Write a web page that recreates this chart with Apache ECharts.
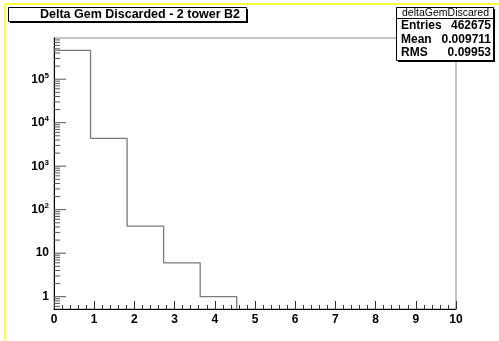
<!DOCTYPE html>
<html>
<head>
<meta charset="utf-8">
<script src="https://cdn.jsdelivr.net/npm/echarts@6/dist/echarts.min.js"></script>
<style>html,body{margin:0;padding:0;background:#fff}#c{width:499px;height:341px}</style>
</head>
<body>
<div id="c"></div>
<script>
// ---- data ----
var title = 'Delta Gem Discarded - 2 tower B2';
var histName = 'deltaGemDiscared';
var statLabels = ['Entries', 'Mean', 'RMS'];
var statValues = ['462675', '0.009711', '0.09953'];
var binEdges = [0, 0.909, 1.818, 2.727, 3.636, 4.545, 5.455, 6.364, 7.273, 8.182, 9.091, 10];
var binCounts = [458246, 4380, 42, 6, 1, 0, 0, 0, 0, 0, 0];
var xTicks = [0, 1, 2, 3, 4, 5, 6, 7, 8, 9, 10];
var yDecades = [0, 1, 2, 3, 4, 5];
var Y_MIN = 0.521, Y_MAX = 8.85e5;

// ---- build ----
var lastNZ = 0;
for (var i = 0; i < binCounts.length; i++) if (binCounts[i] > 0) lastNZ = i;
var histData = [];
for (var i = 0; i <= lastNZ; i++) histData.push([binEdges[i], binCounts[i]]);
histData.push([binEdges[lastNZ + 1], Y_MIN]);

var tickData = [];
for (var k = -1; k <= 6; k++) {
  for (var m = 1; m <= 9; m++) {
    var v = m * Math.pow(10, k);
    if (v > Y_MIN && v < Y_MAX) tickData.push([0, v, m === 1 ? 12 : 6]);
  }
}

var font = 'Liberation Sans, Arial, Helvetica, sans-serif';
var chart = echarts.init(document.getElementById('c'), null, {renderer: 'canvas'});
chart.setOption({
  animation: false,
  backgroundColor: '#fff',
  grid: {left: 54, right: 43, top: 38, bottom: 32, show: true, borderColor: '#8a8a8a', borderWidth: 1},
  xAxis: {
    type: 'value', min: 0, max: 10, interval: 1,
    axisLine: {show: true, onZero: false, lineStyle: {color: '#000', width: 1}},
    axisTick: {show: true, inside: true, length: 8, lineStyle: {color: '#333'}},
    minorTick: {show: true, splitNumber: 5, length: 4, lineStyle: {color: '#333'}},
    splitLine: {show: false},
    axisLabel: {margin: 5, color: '#000', fontFamily: font, fontWeight: 'bold', fontSize: 12,
      formatter: function (v) { return xTicks.indexOf(Math.round(v)) >= 0 ? String(Math.round(v)) : ''; }}
  },
  yAxis: {
    type: 'log', logBase: 10, min: Y_MIN, max: Y_MAX,
    axisLine: {show: true, onZero: false, lineStyle: {color: '#000', width: 1}},
    axisTick: {show: false},
    splitLine: {show: false},
    axisLabel: {
      margin: 5, color: '#000', fontFamily: font, fontWeight: 'bold', fontSize: 12,
      showMinLabel: false, showMaxLabel: false,
      formatter: function (v) {
        var l = Math.log10(v), r = Math.round(l);
        if (Math.abs(l - r) > 1e-6 || yDecades.indexOf(r) < 0) return '';
        if (r === 0) return '{b|1}';
        if (r === 1) return '{b|10}';
        return '{b|10}{s|' + r + '}';
      },
      rich: {
        b: {fontFamily: font, fontWeight: 'bold', fontSize: 12, color: '#000'},
        s: {fontFamily: font, fontWeight: 'bold', fontSize: 8, color: '#000', padding: [0, 0, 7, 0]}
      }
    }
  },
  series: [
    {
      type: 'line', step: 'end', symbol: 'none', data: histData,
      lineStyle: {color: '#7a7a7a', width: 1.3}, z: 3, clip: false
    },
    {
      type: 'custom', data: tickData, silent: true, clip: false, z: 4,
      renderItem: function (params, api) {
        var p = api.coord([api.value(0), api.value(1)]);
        var len = api.value(2);
        return {type: 'line', shape: {x1: p[0], y1: p[1], x2: p[0] + len, y2: p[1]},
          style: {stroke: '#555', lineWidth: 1}};
      }
    }
  ],
  graphic: [
    {type: 'line', shape: {x1: 5, y1: 4, x2: 5, y2: 341}, style: {stroke: '#ffff00', lineWidth: 1.5}, z: 100},
    {type: 'line', shape: {x1: 5, y1: 4, x2: 499, y2: 4}, style: {stroke: '#ffff00', lineWidth: 1.5}, z: 100},
    // title box
    {type: 'rect', shape: {x: 10, y: 9, width: 238, height: 14}, style: {fill: '#000'}, z: 100},
    {type: 'rect', shape: {x: 8.5, y: 7.5, width: 238, height: 14}, style: {fill: '#fff', stroke: '#000', lineWidth: 1}, z: 101},
    {type: 'text', x: 140, y: 15, style: {text: title, fill: '#000', font: 'bold 12.5px ' + font, align: 'center', verticalAlign: 'middle'}, z: 102},
    // stats box
    {type: 'rect', shape: {x: 398, y: 9, width: 97, height: 53}, style: {fill: '#000'}, z: 100},
    {type: 'rect', shape: {x: 396.5, y: 7.5, width: 97, height: 53}, style: {fill: '#fff', stroke: '#000', lineWidth: 1}, z: 101},
    {type: 'line', shape: {x1: 396.5, y1: 18.5, x2: 493.5, y2: 18.5}, style: {stroke: '#000', lineWidth: 1}, z: 102},
    {type: 'text', x: 445.5, y: 13, style: {text: histName, fill: '#000', font: '10.5px ' + font, align: 'center', verticalAlign: 'middle'}, z: 102},
    {type: 'text', x: 401, y: 26, style: {text: statLabels[0], fill: '#000', font: 'bold 12px ' + font, verticalAlign: 'middle'}, z: 102},
    {type: 'text', x: 401, y: 39.5, style: {text: statLabels[1], fill: '#000', font: 'bold 12px ' + font, verticalAlign: 'middle'}, z: 102},
    {type: 'text', x: 401, y: 52.5, style: {text: statLabels[2], fill: '#000', font: 'bold 12px ' + font, verticalAlign: 'middle'}, z: 102},
    {type: 'text', x: 491, y: 26, style: {text: statValues[0], fill: '#000', font: 'bold 12px ' + font, align: 'right', verticalAlign: 'middle'}, z: 102},
    {type: 'text', x: 491, y: 39.5, style: {text: statValues[1], fill: '#000', font: 'bold 12px ' + font, align: 'right', verticalAlign: 'middle'}, z: 102},
    {type: 'text', x: 491, y: 52.5, style: {text: statValues[2], fill: '#000', font: 'bold 12px ' + font, align: 'right', verticalAlign: 'middle'}, z: 102}
  ]
});
</script>
</body>
</html>
